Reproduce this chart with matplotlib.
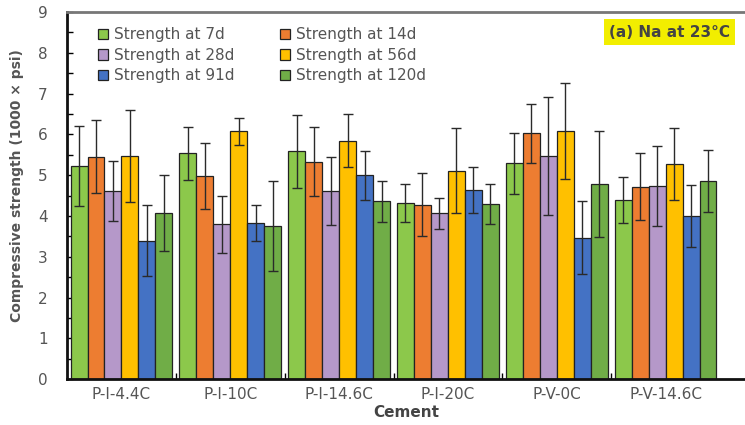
import matplotlib.pyplot as plt
import numpy as np
from matplotlib.ticker import MultipleLocator

plt.rcParams['font.family'] = ['DejaVu Sans']

cements = ['P-I-4.4C', 'P-I-10C', 'P-I-14.6C', 'P-I-20C', 'P-V-0C', 'P-V-14.6C']
ages = ['Strength at 7d', 'Strength at 14d', 'Strength at 28d',
        'Strength at 56d', 'Strength at 91d', 'Strength at 120d']

s7 = [5.22, 5.53, 5.58, 4.32, 5.29, 4.39]
s14 = [5.45, 4.98, 5.33, 4.27, 6.02, 4.72]
s28 = [4.61, 3.79, 4.61, 4.06, 5.47, 4.74]
s56 = [5.47, 6.08, 5.84, 5.11, 6.08, 5.27]
s91 = [3.39, 3.82, 5.00, 4.63, 3.47, 4.00]
s120 = [4.08, 3.75, 4.36, 4.28, 4.78, 4.86]

e7 = [0.98, 0.66, 0.89, 0.46, 0.75, 0.56]
e14 = [0.89, 0.80, 0.85, 0.77, 0.73, 0.81]
e28 = [0.74, 0.71, 0.84, 0.39, 1.45, 0.98]
e56 = [1.12, 0.33, 0.65, 1.05, 1.18, 0.88]
e91 = [0.87, 0.44, 0.60, 0.57, 0.90, 0.75]
e120 = [0.93, 1.11, 0.50, 0.49, 1.30, 0.76]

values = [s7, s14, s28, s56, s91, s120]
errors = [e7, e14, e28, e56, e91, e120]
colors = ['#8cc84b', '#ed7d31', '#b598c9', '#ffc000', '#4472c4', '#70ad47']

fig = plt.figure(figsize=(7.45, 4.25), dpi=100)
ax = fig.add_axes([0.09, 0.108, 0.91, 0.864])

x = np.arange(len(cements))
w = 0.156
bars = []
for i in range(6):
    pos = x + (i - 2.5) * w
    b = ax.bar(pos, values[i], w, color=colors[i], edgecolor='#222222', linewidth=0.9,
               label=ages[i], zorder=2)
    ax.errorbar(pos, values[i], yerr=errors[i], fmt='none', ecolor='#2a2a2a',
                elinewidth=1.0, capsize=3.5, capthick=1.0, zorder=3)
    bars.append(b)

ax.set_xlim(-0.5, 5.73)
ax.set_ylim(0, 9)
ax.yaxis.set_major_locator(MultipleLocator(1))
ax.yaxis.set_minor_locator(MultipleLocator(0.5))
ax.tick_params(axis='y', which='both', direction='in', length=4, width=1,
               labelsize=11, labelcolor='#555555', pad=14)
ax.set_xticks(x)
ax.set_xticklabels(cements)
ax.set_xticks(x[:-1] + 0.5, minor=True)
ax.tick_params(axis='x', which='major', length=0, labelsize=11, labelcolor='#555555', pad=6)
ax.tick_params(axis='x', which='minor', direction='in', length=4, width=1)

for side in ['left', 'bottom']:
    ax.spines[side].set_linewidth(2)
    ax.spines[side].set_color('#111111')
ax.spines['top'].set_linewidth(2)
ax.spines['top'].set_color('#777777')
ax.spines['right'].set_visible(False)

ax.set_ylabel('Compressive strength (1000 × psi)', fontsize=10, fontweight='bold',
              color='#555555')
ax.yaxis.set_label_coords(-0.063, 0.526)
ax.set_xlabel('Cement', fontsize=11, fontweight='bold', color='#444444', labelpad=2)

order = [0, 2, 4, 1, 3, 5]
leg = ax.legend([bars[i] for i in order], [ages[i] for i in order], ncol=2,
                loc='upper left', bbox_to_anchor=(0.025, 0.995), frameon=False,
                fontsize=11, handlelength=0.65, handleheight=0.65, handletextpad=0.4,
                columnspacing=3.0, labelspacing=0.35, labelcolor='#555555')

ax.text(0.978, 0.965, '(a) Na at 23°C', transform=ax.transAxes, ha='right', va='top',
        fontsize=11, fontweight='bold', color='#444444',
        bbox=dict(facecolor='#f2ee00', edgecolor='none', boxstyle='square,pad=0.35'))

fig.savefig('out.png', dpi=100)
